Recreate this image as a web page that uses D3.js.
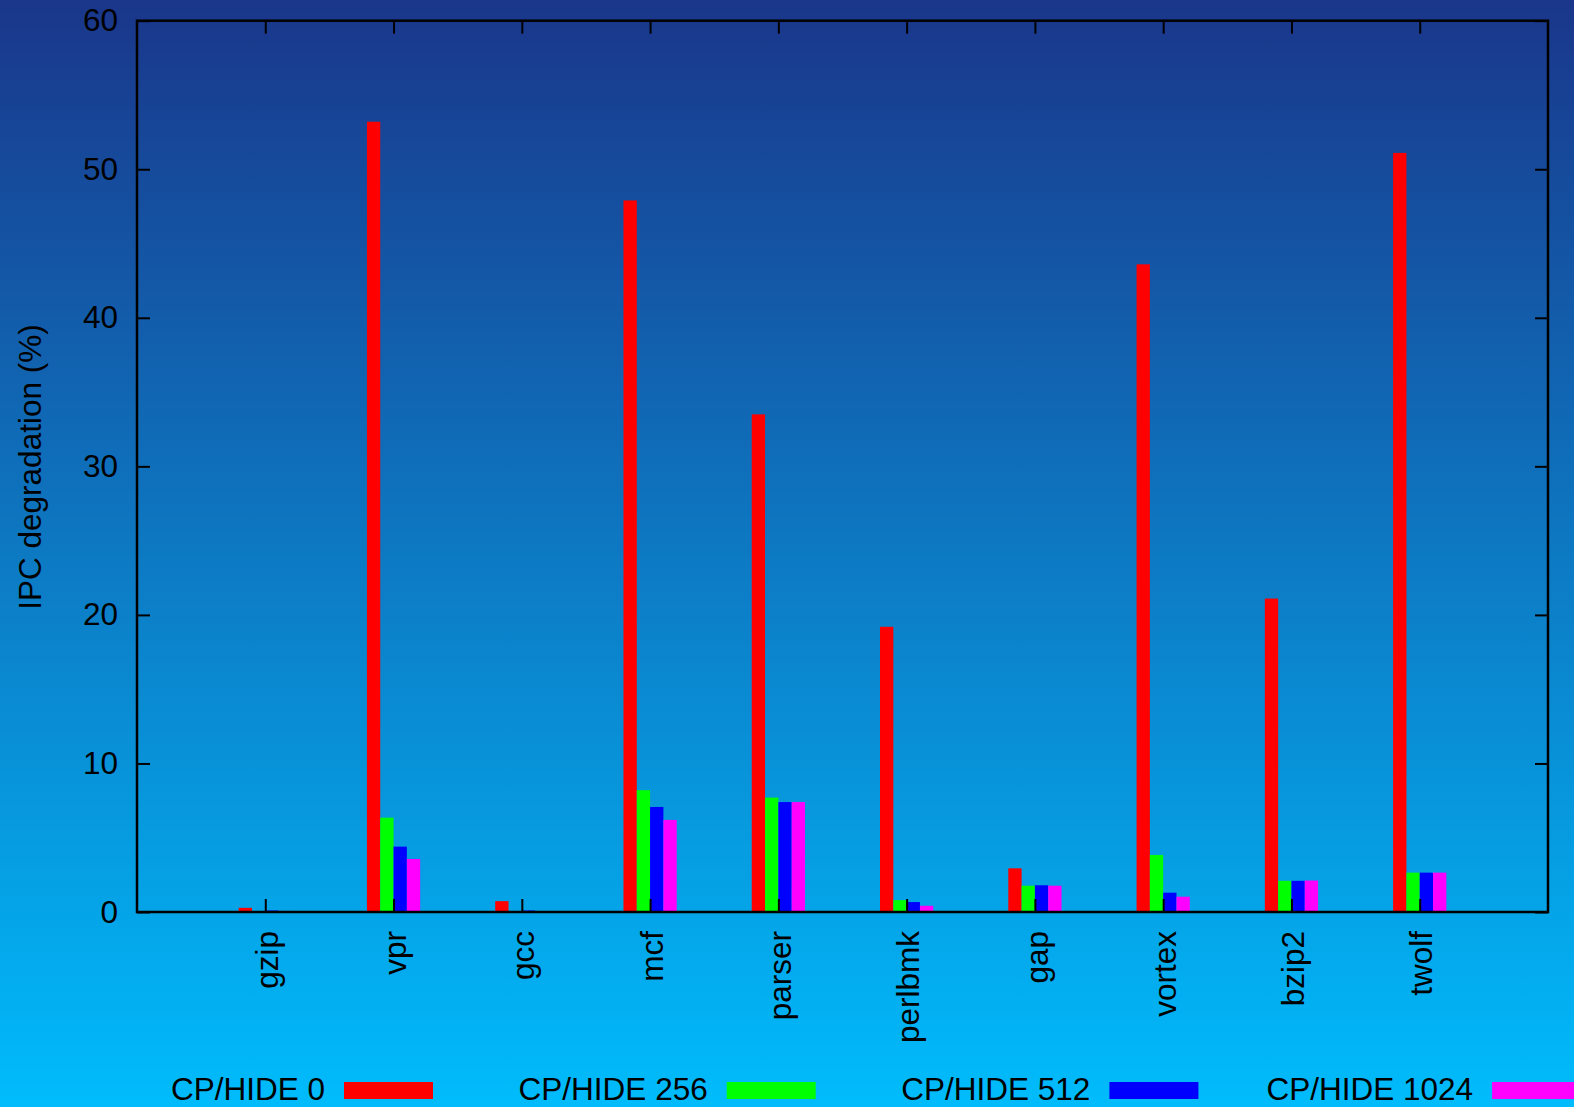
<!DOCTYPE html>
<html>
<head>
<meta charset="utf-8">
<script src="https://cdn.jsdelivr.net/npm/d3@7"></script>
<style>
  html, body { margin: 0; padding: 0; }
  body { width: 1574px; height: 1107px; overflow: hidden; }
  svg text { font-family: "Liberation Sans", Arial, sans-serif; fill: #000; }
</style>
</head>
<body>
<svg id="chart" width="1574" height="1107"></svg>
<script>
// Benchmarks along the x axis
const categories = ["gzip", "vpr", "gcc", "mcf", "parser", "perlbmk", "gap", "vortex", "bzip2", "twolf"];

// IPC degradation (%) per configuration
const seriesNames = ["CP/HIDE 0", "CP/HIDE 256", "CP/HIDE 512", "CP/HIDE 1024"];
const hide0    = [0.28, 53.2, 0.73, 47.9, 33.5, 19.2, 2.94, 43.6, 21.1, 51.1];
const hide256  = [0.05, 6.35, 0.05, 8.2, 7.7, 0.8, 1.77, 3.84, 2.1, 2.65];
const hide512  = [0.1, 4.4, 0.1, 7.07, 7.4, 0.67, 1.8, 1.3, 2.1, 2.65];
const hide1024 = [0.07, 3.57, 0.05, 6.2, 7.4, 0.42, 1.77, 1.03, 2.12, 2.65];
const seriesValues = [hide0, hide256, hide512, hide1024];
const seriesColors = ["#ff0000", "#00ff00", "#0000ff", "#ff00ff"];

const yTicks = [0, 10, 20, 30, 40, 50, 60];

const W = 1574, H = 1107;
const plot = { left: 137, right: 1548, top: 20.7, bottom: 912 };
const fontSize = 31.5;

const svg = d3.select("#chart");

// Background gradient, dark blue at the top to cyan at the bottom
const defs = svg.append("defs");
const grad = defs.append("linearGradient")
  .attr("id", "bg").attr("x1", 0).attr("y1", 0).attr("x2", 0).attr("y2", 1);
grad.append("stop").attr("offset", "0%").attr("stop-color", "#1a368a");
grad.append("stop").attr("offset", "100%").attr("stop-color", "#00bcfc");
svg.append("rect").attr("width", W).attr("height", H).attr("fill", "url(#bg)");

const x = d3.scaleLinear().domain([0, categories.length + 1]).range([plot.left, plot.right]);
const y = d3.scaleLinear().domain([0, 60]).range([plot.bottom, plot.top]);

// Bars in each cluster share 0.415 of a category slot
const sub = d3.scaleBand().domain(d3.range(seriesNames.length))
  .range([-(x(0.2075) - x(0)), x(0.2075) - x(0)]);

const bars = svg.append("g");
seriesValues.forEach((vals, s) => {
  bars.selectAll(null).data(vals).join("rect")
    .attr("x", (d, i) => x(i + 1) + sub(s))
    .attr("y", d => y(d))
    .attr("width", sub.bandwidth())
    .attr("height", d => y(0) - y(d))
    .attr("fill", seriesColors[s]);
});

// Axes: ticks point inward and are mirrored on the opposite side
const tickLen = 13;
const axisLeft = svg.append("g").attr("transform", `translate(${plot.left},0)`)
  .call(d3.axisLeft(y).tickValues(yTicks).tickSize(-tickLen).tickPadding(19));
const axisRight = svg.append("g").attr("transform", `translate(${plot.right},0)`)
  .call(d3.axisRight(y).tickValues(yTicks).tickSize(-tickLen).tickFormat(""));
const catTicks = d3.range(1, categories.length + 1);
const axisBottom = svg.append("g").attr("transform", `translate(0,${plot.bottom})`)
  .call(d3.axisBottom(x).tickValues(catTicks).tickSize(-tickLen).tickFormat(""));
const axisTop = svg.append("g").attr("transform", `translate(0,${plot.top})`)
  .call(d3.axisTop(x).tickValues(catTicks).tickSize(-tickLen).tickFormat(""));

[axisLeft, axisRight, axisBottom, axisTop].forEach(g => {
  g.select(".domain").remove();
  g.selectAll(".tick line").attr("stroke", "#000").attr("stroke-width", 2);
});
axisLeft.selectAll(".tick text")
  .attr("font-size", fontSize).attr("fill", "#000")
  .attr("font-family", "Liberation Sans, Arial, sans-serif");

// Plot frame
svg.append("rect")
  .attr("x", plot.left).attr("y", plot.top)
  .attr("width", plot.right - plot.left).attr("height", plot.bottom - plot.top)
  .attr("fill", "none").attr("stroke", "#000").attr("stroke-width", 2.5);

// Rotated category labels under the axis
svg.append("g").selectAll("text").data(categories).join("text")
  .attr("transform", (d, i) => `translate(${x(i + 1)},${plot.bottom + 19}) rotate(-90)`)
  .attr("text-anchor", "end")
  .attr("dy", "0.4em")
  .attr("font-size", fontSize)
  .text(d => d);

// Y axis title
svg.append("text")
  .attr("transform", `translate(41,467) rotate(-90)`)
  .attr("text-anchor", "middle")
  .attr("font-size", fontSize)
  .text("IPC degradation (%)");

// Legend row along the bottom edge
const legendStart = 344, legendStep = 382.7;
const legend = svg.append("g");
seriesNames.forEach((name, s) => {
  const sx = legendStart + s * legendStep;
  legend.append("text")
    .attr("x", sx - 19).attr("y", 1100)
    .attr("text-anchor", "end")
    .attr("font-size", fontSize)
    .text(name);
  legend.append("rect")
    .attr("x", sx).attr("y", 1082)
    .attr("width", 89).attr("height", 17)
    .attr("fill", seriesColors[s]);
});
</script>
</body>
</html>
